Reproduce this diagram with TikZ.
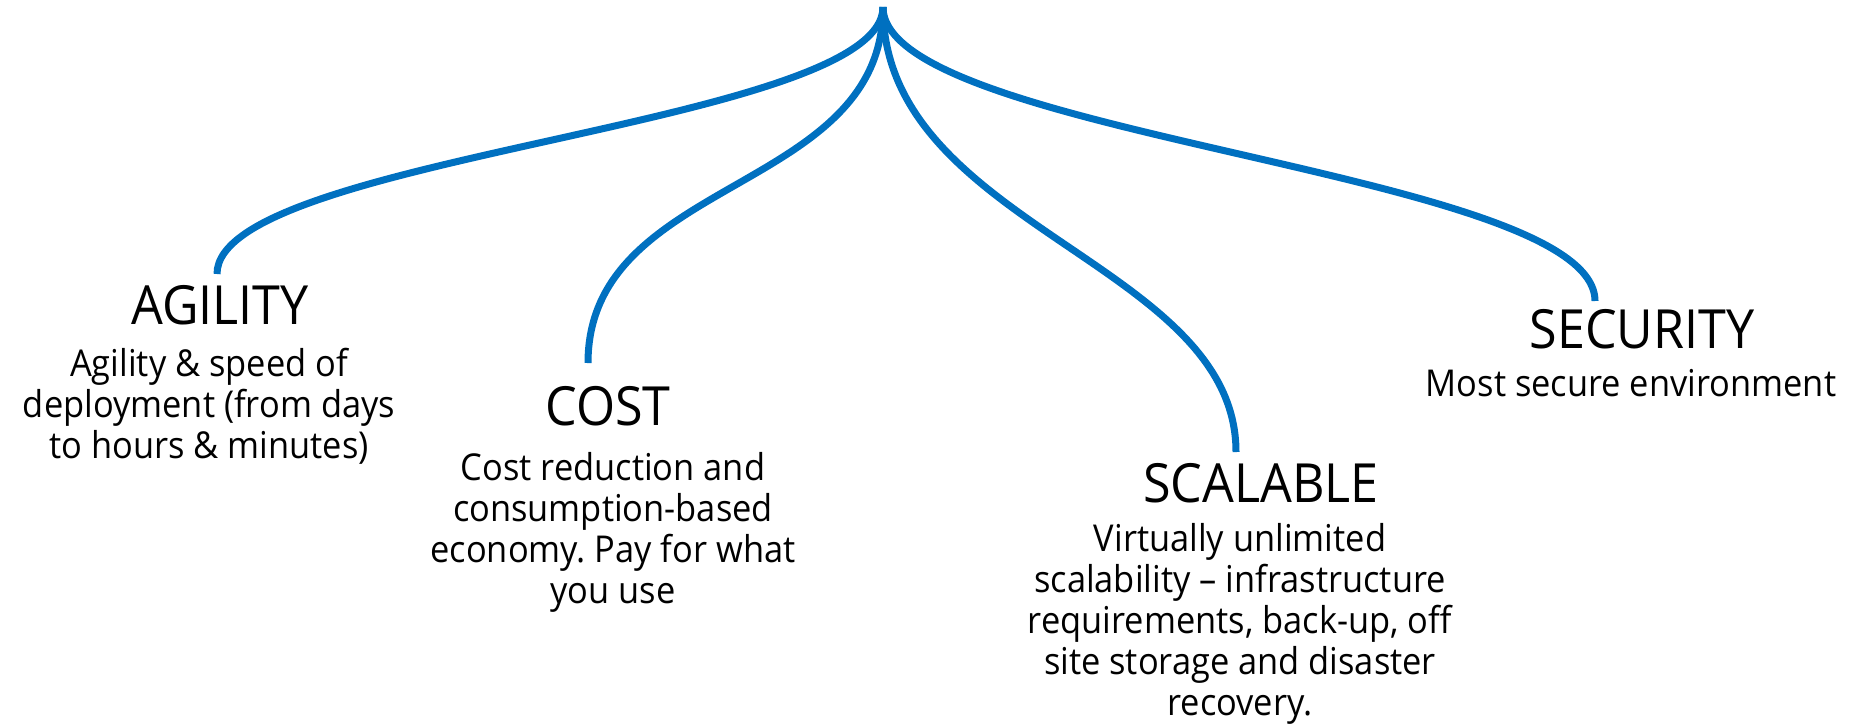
\documentclass[tikz,border=0pt]{standalone}
\usepackage{fontspec}
\setmainfont{Open Sans}[FakeStretch=0.93]
\usepackage{xcolor}
\definecolor{branchblue}{HTML}{0070C0}
\usepackage{tikz}

\begin{document}
\begin{tikzpicture}[x=1pt, y=-1pt,
  title/.style={inner sep=0pt, anchor=base, font=\fontsize{54}{60}\selectfont},
  %
  desc/.style={inner sep=0pt, anchor=base, align=center,
    font=\fontsize{37}{41}\selectfont\frenchspacing},
  %
  branch/.style={draw=branchblue, line width=7pt}
  ]

  \useasboundingbox (0,0) rectangle (1849,724);

  \begin{scope}
    \coordinate (root) at (883,7);
    %%%%%%%%%%%%%%%%%%%%%%%%%%%%%%%
    \coordinate (agilityend) at (217,274);
    \node [title] (agility) at (220,324) {AGILITY};
    \node [desc] (agilitytext) at (209,458)
      {Agility \& speed of\\ deployment (from days\\ to hours \& minutes)};
    %%%%%%%%%%%%%%%%%%%%%%%%%%%%%%%
    \coordinate (costend) at (588,363);
    \node [title] (cost) at (608,425) {COST};
    \node [desc] (costtext) at (613,603)
      {Cost reduction and\\ consumption-based\\ economy. Pay for what\\ you use};
    %%%%%%%%%%%%%%%%%%%%%%%%%%%%%%%
    \coordinate (scalableend) at (1236,452);
    \node [title] (scalable) at (1261,502) {SCALABLE};
    \node [desc] (scalabletext) at (1240,715)
      {Virtually unlimited\\ scalability -- infrastructure\\ requirements, back-up, off\\
       site storage and disaster\\ recovery.};
    %%%%%%%%%%%%%%%%%%%%%%%%%%%%%%%
    \coordinate (securityend) at (1595,301);
    \node [title] (security) at (1642,348) {SECURITY};
    \node [desc] (securitytext) at (1631,396) {Most secure environment};
  \end{scope}

  \begin{scope}
    \draw [branch] (root) .. controls +(0,119) and +(0,-119) .. (agilityend);
    \draw [branch] (root) .. controls +(0,187) and +(0,-187) .. (costend);
    \draw [branch] (root) .. controls +(0,220) and +(0,-190) .. (scalableend);
    \draw [branch] (root) .. controls +(0,130) and +(0,-130) .. (securityend);
  \end{scope}

\end{tikzpicture}
\end{document}
